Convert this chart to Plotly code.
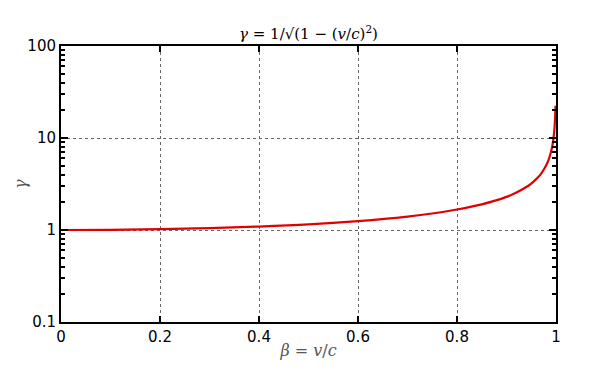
import plotly.graph_objects as go

beta = [0, 0.1, 0.2, 0.3, 0.4, 0.5, 0.6, 0.7, 0.75, 0.8, 0.85, 0.9, 0.92, 0.94,
        0.95, 0.96, 0.97, 0.98, 0.985, 0.99, 0.993, 0.995, 0.997, 0.998, 0.9985, 0.999]
gamma = [1.0, 1.005, 1.02, 1.05, 1.09, 1.15, 1.25, 1.4, 1.51, 1.67, 1.9, 2.29, 2.55, 2.93,
         3.2, 3.57, 4.11, 5.03, 5.8, 7.09, 8.46, 10.0, 12.9, 15.8, 18.3, 22.4]

x_ticks = [0, 0.2, 0.4, 0.6, 0.8, 1]
x_labels = ["0", "0.2", "0.4", "0.6", "0.8", "1"]
y_ticks = [0.1, 1, 10, 100]
y_labels = ["0.1", "1", "10", "100"]
y_minor = [m * d for d in (0.1, 1, 10) for m in range(2, 10)]

fig = go.Figure()
fig.add_trace(go.Scatter(x=beta, y=gamma, mode="lines",
                         line=dict(color="#e00000", width=2.2, shape="spline"),
                         showlegend=False, cliponaxis=True))

tick_font = dict(family="DejaVu Sans", size=15, color="black")
fig.update_layout(
    width=600, height=369,
    margin=dict(l=61, r=44, t=46, b=47),
    paper_bgcolor="white", plot_bgcolor="white",
    title=dict(text="<i>γ</i> = 1/√(1 − (<i>v</i>/<i>c</i>)<sup>2</sup>)",
               x=0.5, xref="paper", xanchor="center", yref="paper", y=1.0,
               yanchor="bottom", pad=dict(b=7),
               font=dict(family="DejaVu Serif", size=15, color="black")),
    xaxis=dict(range=[0, 1], tickvals=x_ticks, ticktext=x_labels, automargin=False,
               ticks="inside", ticklen=6, tickwidth=1.5, tickcolor="black",
               showline=True, linewidth=2, linecolor="black", mirror="allticks",
               showgrid=True, gridcolor="#666666", griddash="dot", gridwidth=1,
               zeroline=False, tickfont=tick_font,
               title=dict(text="<i>β</i> = <i>v</i>/<i>c</i>", standoff=0,
                          font=dict(family="DejaVu Serif", size=16, color="#555555"))),
    yaxis=dict(type="log", range=[-1, 2], tickvals=y_ticks, ticktext=y_labels,
               automargin=False,
               ticks="inside", ticklen=7, tickwidth=1.5, tickcolor="black",
               showline=True, linewidth=2, linecolor="black", mirror="allticks",
               showgrid=True, gridcolor="#666666", griddash="dot", gridwidth=1,
               zeroline=False, tickfont=tick_font,
               minor=dict(tickvals=y_minor, ticks="inside", ticklen=4, tickwidth=1.5,
                          tickcolor="black", showgrid=False)),
    annotations=[dict(text="<i>γ</i>", xref="paper", yref="paper",
                      x=-0.083, y=0.5, xanchor="center", yanchor="middle",
                      textangle=-90, showarrow=False,
                      font=dict(family="DejaVu Serif", size=16, color="#555555"))],
)

fig.write_html("out.html")
